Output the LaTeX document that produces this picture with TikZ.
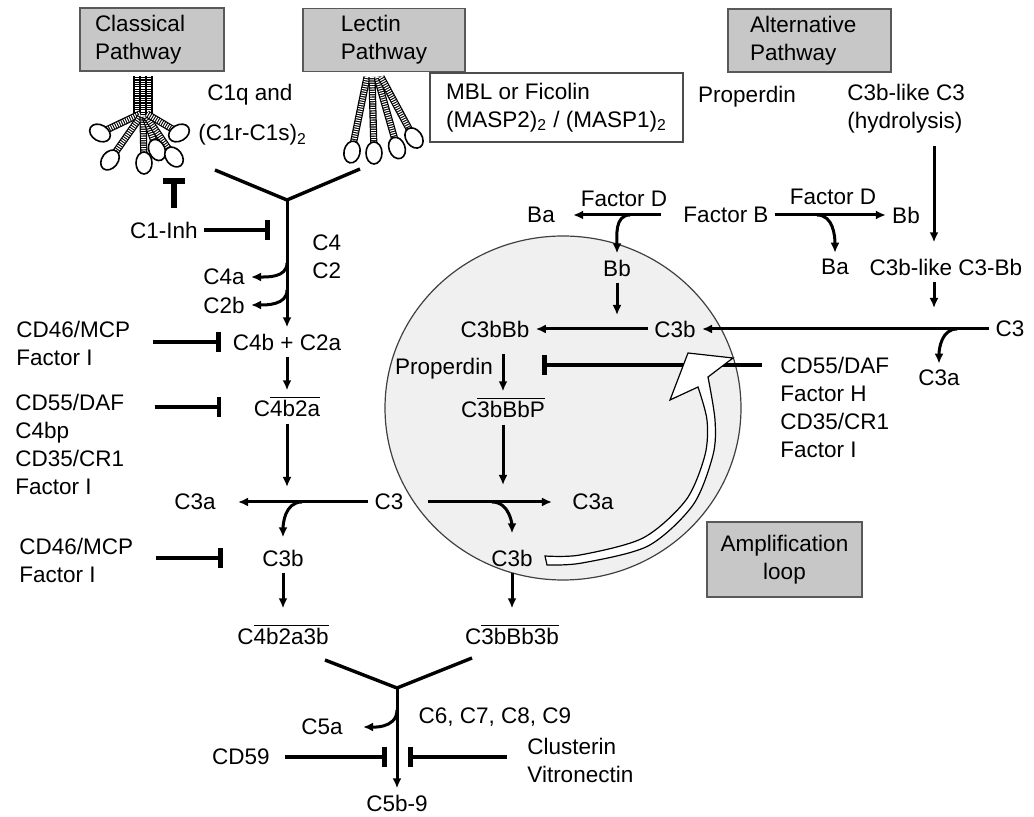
\documentclass[tikz,border=0pt]{standalone}
\usepackage{fontspec}
\setmainfont{Liberation Sans}
\usetikzlibrary{positioning,calc,arrows.meta}
\newcommand{\labfont}{\fontsize{11.25}{14}\selectfont}
% striated arm of a collectin molecule
\newcommand{\mol}[2]{%
	\draw[line width=3.6pt] #1 -- #2;
	\draw[white, line width=2.4pt, dash pattern=on 0.55pt off 0.6pt] #1 -- #2;}
\newcommand{\molhead}[2]{%
	\draw[fill=white, line width=0.8pt, rotate around={#2:#1}] #1 ellipse [x radius=4pt, y radius=5.5pt];}
\tikzset{
	arr/.style={-{Latex[length=5pt,width=4.5pt]}, line width=1.5pt},
	inh/.style={-{Bar[width=10pt]}, line width=2.3pt},
	yline/.style={line width=1.7pt},
	pathbox/.style={draw=black!65, fill=black!22, line width=0.6pt, align=left, minimum height=31.5pt},
}

\begin{document}
\begin{tikzpicture}[x=0.5pt,y=0.5pt]
	\useasboundingbox (0,0) rectangle (1034,-817);
	% amplification loop
	\draw[draw=black!75, fill=black!6, line width=0.6pt] (563,-408) ellipse [x radius=89pt, y radius=86pt];

	% C1q and MBL molecules
	\mol{(137,-76)}{(137,-118)}
	\mol{(143,-76)}{(143,-118)}
	\mol{(149,-76)}{(149,-118)}
	\mol{(140,-114)}{(100,-133)}
	\mol{(141,-116)}{(110,-160)}
	\mol{(143,-116)}{(144,-163)}
	\mol{(145,-116)}{(157,-150)}
	\mol{(146,-116)}{(174,-157)}
	\mol{(147,-114)}{(179,-133)}
	\molhead{(100,-133)}{60}
	\molhead{(179,-133)}{-60}
	\molhead{(110,-160)}{-38}
	\molhead{(144,-163)}{0}
	\molhead{(157,-150)}{24}
	\molhead{(174,-157)}{38}
	\mol{(367,-77)}{(352,-150)}
	\mol{(372,-77)}{(374,-152)}
	\mol{(377,-77)}{(397,-147)}
	\mol{(381,-77)}{(414,-138)}
	\molhead{(352,-152)}{-12}
	\molhead{(374,-153)}{0}
	\molhead{(397,-148)}{20}
	\molhead{(414,-138)}{35}

	\begin{scope}
		\tikzstyle{every node}=[font=\labfont, inner sep=3pt]
		% pathways
		\node[pathbox, text width=57pt, inner xsep=7.5pt] (cp) at (152,-39.5) {Classical\\Pathway};
		\node[pathbox, minimum width=81pt] (lp) at (384,-40) {Lectin\\Pathway};
		\node[pathbox, text width=59.5pt, inner xsep=11pt] (ap) at (809.5,-40.5) {Alternative\\Pathway};
		\node[pathbox, minimum width=77.5pt, minimum height=37.5pt, align=center] (amp) at (784.5,-559.5) {Amplification\\loop};
		\node[draw=black!70, fill=white, line width=0.6pt, align=left, minimum width=126.5pt, minimum height=34.5pt] (mbl) at (556.5,-107.5) {MBL or Ficolin\\(MASP2)\textsubscript{2} / (MASP1)\textsubscript{2}};
		\node[anchor=west] (c1q) at (201,-95) {C1q and};
		\node[anchor=west] (c1r) at (192,-135) {(C1r-C1s)\textsubscript{2}};
		\node (prop) at (747,-97) {Properdin};
		\node[anchor=west, align=left] (c3like) at (841,-109) {C3b-like C3\\(hydrolysis)};

		% classical and lectin
		\node (c1inh) at (164,-230) {C1-Inh};
		\node[anchor=west, align=left] (c4c2) at (306,-257) {C4\\C2};
		\node (c4a) at (224,-277) {C4a};
		\node (c2b) at (224,-305) {C2b};
		\node (c4bc2a) at (287,-342) {C4b + C2a};
		\node[anchor=west, align=left] (cd46a) at (10,-343) {CD46/MCP\\Factor I};
		\node[anchor=base] (c4b2a) at (287,-417) {C$\overline{\mbox{4b2a}}$};
		\node[anchor=west, align=left] (cd55) at (9,-444) {CD55/DAF\\C4bp\\CD35/CR1\\Factor I};
		\node (c3) at (389,-502) {C3};
		\node (c3al) at (195,-502) {C3a};
		\node (c3bl) at (283,-558) {C3b};
		\node[anchor=west, align=left] (cd46b) at (13,-560) {CD46/MCP\\Factor I};
		\node[anchor=base] (c4b2a3b) at (283,-645) {C$\overline{\mbox{4b2a3b}}$};

		% alternative
		\node (fd1) at (624,-199) {Factor D};
		\node (ba1) at (541,-215) {Ba};
		\node (fb) at (726,-215) {Factor B};
		\node (fd2) at (833,-197) {Factor D};
		\node (bb1) at (906,-215) {Bb};
		\node (ba2) at (835,-267) {Ba};
		\node (c3bbl) at (946,-267) {C3b-like C3-Bb};
		\node (bb2) at (617,-268) {Bb};
		\node (c3r) at (1010,-329) {C3};
		\node (c3ar) at (939,-378) {C3a};
		\node (c3b1) at (675,-329) {C3b};
		\node (c3bbb) at (495,-329) {C3bBb};
		\node (prop2) at (444,-369) {Properdin};
		\node[anchor=base] (c3bbbp) at (503,-418) {C$\overline{\mbox{3bBbP}}$};
		\node[anchor=west, align=left] (reg) at (774,-407.5) {CD55/DAF\\Factor H\\CD35/CR1\\Factor I};
		\node (c3a2) at (593,-502) {C3a};
		\node (c3b2) at (512,-558) {C3b};
		\node[anchor=base] (c3bbb3b) at (512,-645) {C$\overline{\mbox{3bBb3b}}$};

		% terminal
		\node (c5a) at (322,-727) {C5a};
		\node (c6) at (495,-717) {C6, C7, C8, C9};
		\node (cd59) at (241,-757) {CD59};
		\node[anchor=west, align=left] (clus) at (521,-760) {Clusterin\\Vitronectin};
		\node (c5b9) at (397,-803) {C5b-9};

		\coordinate (yl) at (215,-170);
		\coordinate (yr) at (360,-169);
		\coordinate (yj) at (287,-200);
		\coordinate (t0) at (174,-208);
		\coordinate (t1) at (174,-178);
		\coordinate (cb1) at (270,-230);
		\coordinate (s4a) at (287,-263);
		\coordinate (s2b) at (287,-290);
		\coordinate (e1) at (287,-487);
		\coordinate (s3l) at (302,-502);
		\coordinate (zl) at (325,-660);
		\coordinate (zr) at (472,-658);
		\coordinate (zj) at (397,-688);
		\coordinate (s5a) at (397,-710);
		\coordinate (cb5l) at (387,-757);
		\coordinate (cb5r) at (408,-757);
		\coordinate (e4) at (934,-308);
		\coordinate (sbr) at (817,-215);
		\coordinate (sbl) at (630,-215);
		\coordinate (e2) at (617,-315);
		\coordinate (s3r) at (957,-329);
		\coordinate (cbr) at (542,-365);
		\coordinate (e3) at (503,-485);
		\coordinate (s3b) at (492,-502);

		\draw[yline] (yl) -- (yj) -- (yr);
		\draw[arr] (yj) -- (c4bc2a);
		\draw[inh, line width=3pt, -{Bar[width=11pt]}] (t0) -- (t1);
		\draw[inh] (c1inh) -- (cb1);
		\draw[arr] (s4a) to[out=-90,in=0] (c4a);
		\draw[arr] (s2b) to[out=-90,in=0] (c2b);
		\draw[inh, shorten <=8pt, shorten >=3pt] (cd46a.east |- c4bc2a) -- (c4bc2a.west);
		\draw[arr] (c4bc2a) -- (c4b2a);
		\draw[inh, shorten <=12pt, shorten >=13pt] (cd55.east |- c4b2a) -- (c4b2a.west);
		\draw[arr] (c4b2a) -- (e1);
		\draw[arr, shorten >=8pt] (c3) -- (c3al);
		\draw[arr, shorten >=3pt] (s3l) to[out=180,in=90] (c3bl);
		\draw[inh, shorten <=8pt, shorten >=16.5pt] (cd46b.east |- c3bl) -- (c3bl.west);
		\draw[arr, shorten >=5pt] (c3bl) -- (c4b2a3b);

		\draw[arr, shorten <=3pt, shorten >=5pt] (c3like.south -| e4) -- (c3bbl.north -| e4);
		\draw[arr] (c3bbl.south -| e4) -- (e4);
		\draw[arr] (fb.east |- bb1) -- (bb1);
		\draw[arr] (sbr) to[out=0,in=90] (ba2);
		\draw[arr, shorten <=8pt, shorten >=6pt] (fb) -- (ba1);
		\draw[arr] (sbl) to[out=180,in=90] (bb2);
		\draw[arr] (bb2) -- (e2);
		\draw[arr] (c3r) -- (c3b1);
		\draw[arr] (s3r) to[out=180,in=90] (c3ar);
		\draw[arr] (c3b1) -- (c3bbb);
		\draw[arr, shorten <=5pt] (c3bbb.south -| c3bbbp) -- (c3bbbp);
		\draw[inh, shorten <=6pt] (reg.west |- cbr) -- (cbr);
		\draw[arr] (c3bbbp) -- (e3);
		\draw[arr, shorten <=9pt, shorten >=7pt] (c3) -- (c3a2);
		\draw[arr, shorten >=5pt] (s3b) to[out=0,in=90] (c3b2);
		\draw[arr, shorten >=5pt] (c3b2) -- (c3bbb3b);

		\draw[yline] (zl) -- (zj) -- (zr);
		\draw[arr] (zj) -- (c5b9);
		\draw[arr, shorten >=7pt] (s5a) to[out=-90,in=0] (c5a);
		\draw[inh, shorten <=4.5pt] (cd59) -- (cb5l);
		\draw[inh, shorten <=7pt] (clus.west |- cb5r) -- (cb5r);
	\end{scope}

	% white loop arrow
	\draw[fill=white, line width=0.6pt] plot[smooth] coordinates {(547,-565) (582,-563) (648,-546) (693,-505) (713,-455) (715,-420) (708,-377)}
		-- (733,-358) -- (688,-353) -- (670,-400) -- (698,-387)
		-- plot[smooth] coordinates {(698,-387) (707,-420) (705,-455) (686,-500) (643,-538) (580,-555) (545,-556)} -- cycle;
\end{tikzpicture}
\end{document}
